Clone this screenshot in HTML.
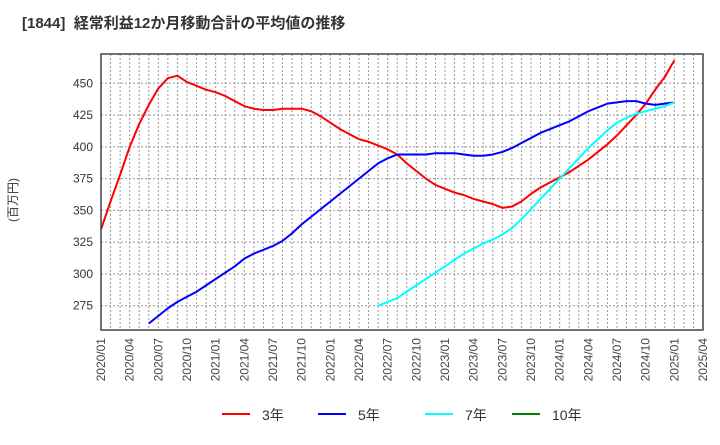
<!DOCTYPE html>
<html><head><meta charset="utf-8"><style>
body{margin:0;background:#fff;font-family:"Liberation Sans","Noto Sans CJK JP",sans-serif}
svg text{font-family:"Liberation Sans","Noto Sans CJK JP",sans-serif}
</style></head><body>
<svg id="c" width="720" height="440" viewBox="0 0 720 440">
<text x="22" y="28" font-size="15" font-weight="bold" fill="#333">[1844]&#160;&#160;経常利益12か月移動合計の平均値の推移</text>
<text transform="translate(17,200) rotate(-90)" text-anchor="middle" font-size="12" fill="#333">(百万円)</text>
<g id="grid"></g><g id="series"></g><g id="axes"></g>
<g>
<line x1="222" y1="414" x2="250" y2="414" stroke="#f00" stroke-width="2"/><text x="262" y="420" font-size="14" fill="#333">3年</text>
<line x1="318" y1="414" x2="346" y2="414" stroke="#00f" stroke-width="2"/><text x="358" y="420" font-size="14" fill="#333">5年</text>
<line x1="425" y1="414" x2="453" y2="414" stroke="#0ff" stroke-width="2"/><text x="465" y="420" font-size="14" fill="#333">7年</text>
<line x1="512" y1="414" x2="540" y2="414" stroke="#008000" stroke-width="2"/><text x="552" y="420" font-size="14" fill="#333">10年</text>
</g>
</svg>
<script>
const yTicks=[275,300,325,350,375,400,425,450];
const xLabels=["2020/01","2020/04","2020/07","2020/10","2021/01","2021/04","2021/07","2021/10","2022/01","2022/04","2022/07","2022/10","2023/01","2023/04","2023/07","2023/10","2024/01","2024/04","2024/07","2024/10","2025/01","2025/04"];
const red3=[335,357,378,400,418,433,446,454,456,451,448,445,443,440,436,432,430,429,429,430,430,430,428,424,419,414,410,406,404,401,398,394,387,381,375,370,367,364,362,359,357,355,352,353,357,363,368,372,376,380,385,390,396,402,409,417,425,434,445,455,468];
const blue5Start=5;
const blue5=[261,267,273,278,282,286,291,296,301,306,312,316,319,322,326,332,339,345,351,357,363,369,375,381,387,391,394,394,394,394,395,395,395,394,393,393,394,396,399,403,407,411,414,417,420,424,428,431,434,435,436,436,434,433,434,435];
const cyan7Start=29;
const cyan7=[275,278,281,286,291,296,301,306,311,316,320,324,327,331,336,343,351,359,367,375,383,391,399,406,413,419,423,426,428,430,432,435];
const L=101,R=703,T=54,B=330;
const X=m=>L+m*(R-L)/63;
const Y=v=>83.3+(450-v)*31.77/25;
const NS="http://www.w3.org/2000/svg";
function mk(t,a,p){const e=document.createElementNS(NS,t);for(const k in a)e.setAttribute(k,a[k]);p.appendChild(e);return e;}
const g=document.getElementById('grid'),s=document.getElementById('series'),ax=document.getElementById('axes');
for(let m=1;m<63;m++){const l=mk('line',{x1:X(m),x2:X(m),y1:T,y2:B,stroke:'#999','stroke-dasharray':'2,2','stroke-width':1},g);

}
yTicks.forEach(v=>{const l=mk('line',{x1:L,x2:R,y1:Y(v),y2:Y(v),stroke:'#999','stroke-dasharray':'2,2','stroke-width':1},g);


const t=mk('text',{x:93,y:Y(v)+4,'text-anchor':'end','font-size':12,fill:'#333'},ax);t.textContent=v;

});
xLabels.forEach((lb,i)=>{const x=X(i*3);const t=mk('text',{transform:`translate(${x+4},338) rotate(-90)`,'text-anchor':'end','font-size':12,fill:'#444'},ax);t.textContent=lb;

});
const fr=mk('rect',{x:L,y:T,width:R-L,height:B-T,fill:'none',stroke:'#444','stroke-width':1.5},ax);


function line(arr,start,col,name){const p=mk('polyline',{points:arr.map((v,i)=>X(start+i)+','+Y(v)).join(' '),fill:'none',stroke:col,'stroke-width':2,'stroke-linejoin':'round'},s);

}
line(red3,0,'#f00','series-3-year');
line(blue5,blue5Start,'#00f','series-5-year');
line(cyan7,cyan7Start,'#0ff','series-7-year');
</script>
</body></html>
